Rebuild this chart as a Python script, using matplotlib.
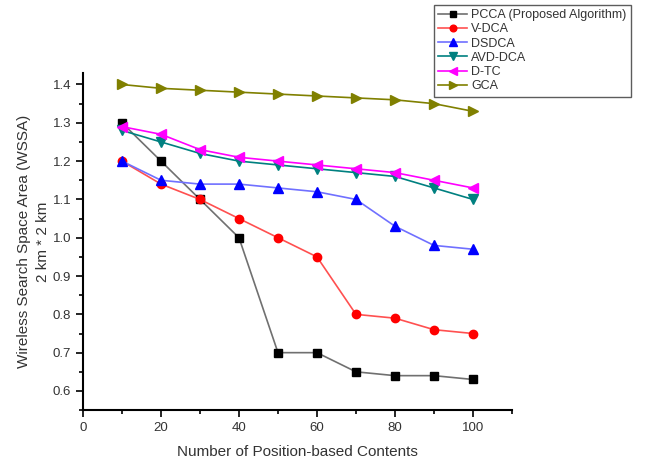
import matplotlib
matplotlib.use("Agg")
import matplotlib.pyplot as plt
from matplotlib.ticker import MultipleLocator

plt.rcParams['font.family'] = ['Liberation Sans', 'DejaVu Sans']

x = [10, 20, 30, 40, 50, 60, 70, 80, 90, 100]
pcca = [1.30, 1.20, 1.10, 1.00, 0.70, 0.70, 0.65, 0.64, 0.64, 0.63]
vdca = [1.20, 1.14, 1.10, 1.05, 1.00, 0.95, 0.80, 0.79, 0.76, 0.75]
dsdca = [1.20, 1.15, 1.14, 1.14, 1.13, 1.12, 1.10, 1.03, 0.98, 0.97]
avddca = [1.28, 1.25, 1.22, 1.20, 1.19, 1.18, 1.17, 1.16, 1.13, 1.10]
dtc = [1.29, 1.27, 1.23, 1.21, 1.20, 1.19, 1.18, 1.17, 1.15, 1.13]
gca = [1.40, 1.39, 1.385, 1.38, 1.375, 1.37, 1.365, 1.36, 1.35, 1.33]

fig = plt.figure(figsize=(6.46, 4.65), dpi=100)
ax = fig.add_axes([0.1285, 0.118, 0.664, 0.725])

lines = [
    ax.plot(x, pcca, color='#707070', marker='s', mfc='black', mec='black', ms=6, lw=1.2, label='PCCA (Proposed Algorithm)')[0],
    ax.plot(x, vdca, color='#ff5050', marker='o', mfc='red', mec='red', ms=6, lw=1.2, label='V-DCA')[0],
    ax.plot(x, dsdca, color='#7070ff', marker='^', mfc='blue', mec='blue', ms=7, lw=1.2, label='DSDCA')[0],
    ax.plot(x, avddca, color='#008080', marker='v', mfc='#008080', mec='#008080', ms=7, lw=1.2, label='AVD-DCA')[0],
    ax.plot(x, dtc, color='#ff00ff', marker='<', mfc='#ff00ff', mec='#ff00ff', ms=7, lw=1.2, label='D-TC')[0],
    ax.plot(x, gca, color='#808000', marker='>', mfc='#808000', mec='#808000', ms=7, lw=1.2, label='GCA')[0],
]

ax.set_xlim(0, 110)
ax.set_ylim(0.55, 1.43)
ax.xaxis.set_major_locator(MultipleLocator(20))
ax.xaxis.set_minor_locator(MultipleLocator(10))
ax.yaxis.set_major_locator(MultipleLocator(0.1))
ax.yaxis.set_minor_locator(MultipleLocator(0.05))
ax.yaxis.set_major_formatter(plt.FormatStrFormatter('%.1f'))
ax.tick_params(which='both', direction='out', colors='black', labelcolor='#333333', labelsize=9.5, width=1.2)
ax.tick_params(which='major', length=5)
ax.tick_params(which='minor', length=3)
ax.spines['top'].set_visible(False)
ax.spines['right'].set_visible(False)
ax.spines['left'].set_linewidth(1.5)
ax.spines['bottom'].set_linewidth(1.5)

ax.set_xlabel('Number of Position-based Contents', fontsize=11, color='#333333', labelpad=8)
ax.set_ylabel('Wireless Search Space Area (WSSA)\n2 km * 2 km', fontsize=11, color='#333333',
              linespacing=1.45, labelpad=2)

leg = fig.legend(handles=lines, loc='upper left', bbox_to_anchor=(0.672, 0.99), borderaxespad=0,
                 frameon=True, fancybox=False, edgecolor='#333333', fontsize=9, handlelength=2.3,
                 handletextpad=0.3, labelspacing=0.18, borderpad=0.35, markerscale=0.8)
leg.get_frame().set_linewidth(1.0)
for t in leg.get_texts():
    t.set_color('#333333')

fig.savefig('out.png', dpi=100)
